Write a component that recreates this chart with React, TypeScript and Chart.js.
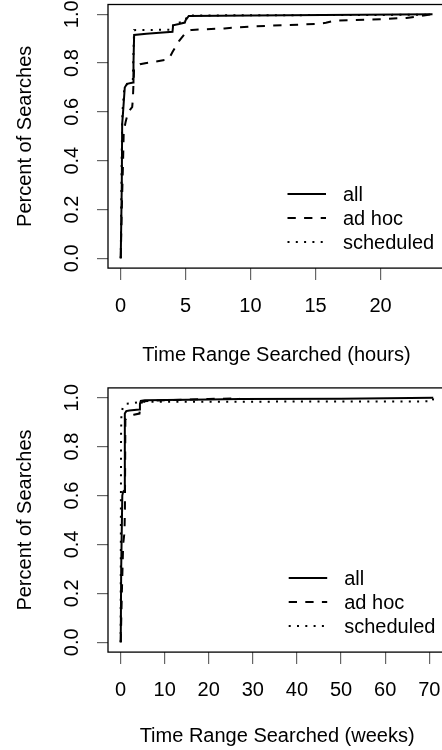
import React, { useEffect, useRef } from "react";
import { Chart, registerables } from "chart.js";
Chart.register(...registerables);

const FONT = "'Liberation Sans', Arial, Helvetica, sans-serif";

const seriesLabels = ["all", "ad hoc", "scheduled"];
const yTicks = [0, 0.2, 0.4, 0.6, 0.8, 1.0];
const yTickLabels = ["0.0", "0.2", "0.4", "0.6", "0.8", "1.0"];
const yTitle = "Percent of Searches";

// Panel 1: hours
const hoursTicks = [0, 5, 10, 15, 20];
const hoursTitle = "Time Range Searched (hours)";
const hoursAllX = [0.02, 0.1, 0.13, 0.2, 0.33, 0.5, 0.98, 1.0, 1.05, 2, 3, 4.0, 4.05, 4.5, 4.95, 5.0, 5.25, 10, 24];
const hoursAllY = [0, 0.3, 0.55, 0.6, 0.7, 0.715, 0.72, 0.8, 0.915, 0.92, 0.924, 0.928, 0.955, 0.96, 0.966, 0.975, 0.993, 0.995, 1.0];
const hoursAdhocX = [0.02, 0.1, 0.2, 0.25, 0.4, 0.6, 0.9, 0.95, 1.05, 1.5, 2, 3.7, 4.0, 4.5, 5.1, 5.5, 8, 10, 15, 15.8, 16.5, 20, 22, 24];
const hoursAdhocY = [0, 0.2, 0.4, 0.52, 0.56, 0.6, 0.62, 0.65, 0.78, 0.795, 0.8, 0.815, 0.845, 0.89, 0.93, 0.936, 0.942, 0.95, 0.96, 0.965, 0.974, 0.98, 0.985, 1.0];
const hoursSchedX = [0.02, 0.1, 0.15, 0.3, 0.6, 0.95, 1.0, 1.05, 4.0, 4.05, 4.9, 5.2, 24];
const hoursSchedY = [0, 0.45, 0.6, 0.7, 0.72, 0.73, 0.85, 0.935, 0.937, 0.96, 0.97, 0.995, 0.998];

// Panel 2: weeks
const weeksTicks = [0, 10, 20, 30, 40, 50, 60, 70];
const weeksTitle = "Time Range Searched (weeks)";
const weeksAllX = [0.05, 0.15, 0.4, 0.6, 0.8, 0.95, 1.0, 1.3, 2, 4.2, 4.4, 4.6, 5.5, 20, 27, 50, 70.9];
const weeksAllY = [0, 0.3, 0.6, 0.616, 0.62, 0.7, 0.935, 0.945, 0.948, 0.952, 0.975, 0.987, 0.99, 0.993, 0.995, 0.996, 1.0];
const weeksAdhocX = [0.05, 0.3, 0.6, 0.9, 1.0, 1.1, 1.5, 3, 4.3, 4.5, 5, 10, 20, 26, 27];
const weeksAdhocY = [0, 0.2, 0.4, 0.45, 0.55, 0.91, 0.92, 0.93, 0.935, 0.97, 0.985, 0.99, 0.995, 0.997, 1.0];
const weeksSchedX = [0.03, 0.08, 0.12, 0.2, 0.5, 1.2, 3, 4.5, 70.8, 70.9];
const weeksSchedY = [0, 0.5, 0.85, 0.93, 0.96, 0.975, 0.978, 0.983, 0.985, 1.0];

const dashes: number[][] = [[], [8.3, 8.3], [2, 6.3]];

type Panel = {
  xMin: number; xMax: number; xTicks: number[]; xTitle: string;
  series: [number[], number[]][];
  padTop: number; padBottom: number; padRight: number; xAxisH: number; xTickPad: number;
};

const panels: Panel[] = [
  {
    xMin: -0.96, xMax: 24.96, xTicks: hoursTicks, xTitle: hoursTitle,
    series: [[hoursAllX, hoursAllY], [hoursAdhocX, hoursAdhocY], [hoursSchedX, hoursSchedY]],
    padTop: 4.5, padBottom: 8, padRight: 15, xAxisH: 98.9, xTickPad: 14.6,
  },
  {
    xMin: -2.84, xMax: 73.84, xTicks: weeksTicks, xTitle: weeksTitle,
    series: [[weeksAllX, weeksAllY], [weeksAdhocX, weeksAdhocY], [weeksSchedX, weeksSchedY]],
    padTop: 12.9, padBottom: 1.3, padRight: 13.8, xAxisH: 96.6, xTickPad: 13.9,
  },
];

const boxPlugin = {
  id: "rbox",
  afterDraw(chart: any) {
    const { ctx, chartArea: a } = chart;
    ctx.save();
    ctx.strokeStyle = "#000";
    ctx.lineWidth = 1.3;
    ctx.setLineDash([]);
    ctx.strokeRect(a.left, a.top, a.right - a.left, a.bottom - a.top);
    ctx.restore();
  },
};

const legendPlugin = {
  id: "rlegend",
  afterDraw(chart: any) {
    const { ctx, chartArea: a } = chart;
    const offsets = [73, 49, 25];
    ctx.save();
    ctx.font = `20px ${FONT}`;
    ctx.fillStyle = "#000";
    ctx.textBaseline = "middle";
    ctx.textAlign = "left";
    seriesLabels.forEach((lab, i) => {
      const y = a.bottom - offsets[i];
      ctx.beginPath();
      ctx.strokeStyle = "#000";
      ctx.lineWidth = 2;
      ctx.lineCap = "butt";
      ctx.setLineDash(dashes[i]);
      ctx.moveTo(a.right - 157.5, y - 1);
      ctx.lineTo(a.right - 119, y - 1);
      ctx.stroke();
      ctx.setLineDash([]);
      ctx.fillText(lab, a.right - 102, y);
    });
    ctx.restore();
  },
};

function makeConfig(p: Panel): any {
  const font = { family: FONT, size: 20 };
  return {
    type: "line",
    data: {
      datasets: p.series.map(([xs, ys], i) => ({
        label: seriesLabels[i],
        data: xs.map((x, j) => ({ x, y: ys[j] })),
        borderColor: "#000",
        borderWidth: 2,
        borderDash: dashes[i],
        borderCapStyle: "butt",
        borderJoinStyle: "miter",
        pointRadius: 0,
        pointHoverRadius: 0,
        fill: false,
        tension: 0,
      })),
    },
    options: {
      responsive: false,
      animation: false,
      devicePixelRatio: 1,
      events: [],
      layout: { padding: { left: 0, top: p.padTop, right: p.padRight, bottom: p.padBottom } },
      plugins: { legend: { display: false }, tooltip: { enabled: false } },
      scales: {
        x: {
          type: "linear",
          min: p.xMin,
          max: p.xMax,
          afterBuildTicks: (s: any) => { s.ticks = p.xTicks.map((v) => ({ value: v })); },
          afterFit: (s: any) => { s.height = p.xAxisH; s.paddingLeft = 0; s.paddingRight = 0; },
          grid: { drawOnChartArea: false, drawTicks: true, tickLength: 12, color: "#666", lineWidth: 1.2 },
          border: { display: false },
          ticks: {
            padding: p.xTickPad, color: "#000", font, maxRotation: 0, minRotation: 0, autoSkip: false,
            callback: (v: number) => String(v),
          },
          title: { display: true, text: p.xTitle, color: "#000", font, padding: { top: 0, bottom: 0 } },
        },
        y: {
          type: "linear",
          min: -0.04,
          max: 1.04,
          afterBuildTicks: (s: any) => { s.ticks = yTicks.map((v) => ({ value: v })); },
          afterFit: (s: any) => { s.width = 108; s.paddingTop = 0; s.paddingBottom = 0; },
          grid: { drawOnChartArea: false, drawTicks: true, tickLength: 11, color: "#666", lineWidth: 1.2 },
          border: { display: false },
          ticks: {
            padding: 11, color: "#000", font, minRotation: 90, maxRotation: 90, crossAlign: "center", autoSkip: false,
            callback: (v: number) => {
              const i = yTicks.findIndex((t) => Math.abs(t - v) < 1e-9);
              return i >= 0 ? yTickLabels[i] : "";
            },
          },
          title: { display: true, text: yTitle, color: "#000", font, padding: { top: 13, bottom: 0 } },
        },
      },
    },
    plugins: [boxPlugin, legendPlugin],
  };
}

export default function App() {
  const r1 = useRef<HTMLCanvasElement | null>(null);
  const r2 = useRef<HTMLCanvasElement | null>(null);
  useEffect(() => {
    const charts: Chart[] = [];
    [r1, r2].forEach((r, i) => {
      if (r.current) charts.push(new Chart(r.current, makeConfig(panels[i])));
    });
    return () => charts.forEach((c) => c.destroy());
  }, []);
  return (
    <div style={{ position: "fixed", left: 0, top: 0, width: 442, height: 750, overflow: "hidden", background: "#fff" }}>
      <canvas ref={r1} width={460} height={375} style={{ display: "block", width: 460, height: 375 }} />
      <canvas ref={r2} width={460} height={375} style={{ display: "block", width: 460, height: 375 }} />
    </div>
  );
}
